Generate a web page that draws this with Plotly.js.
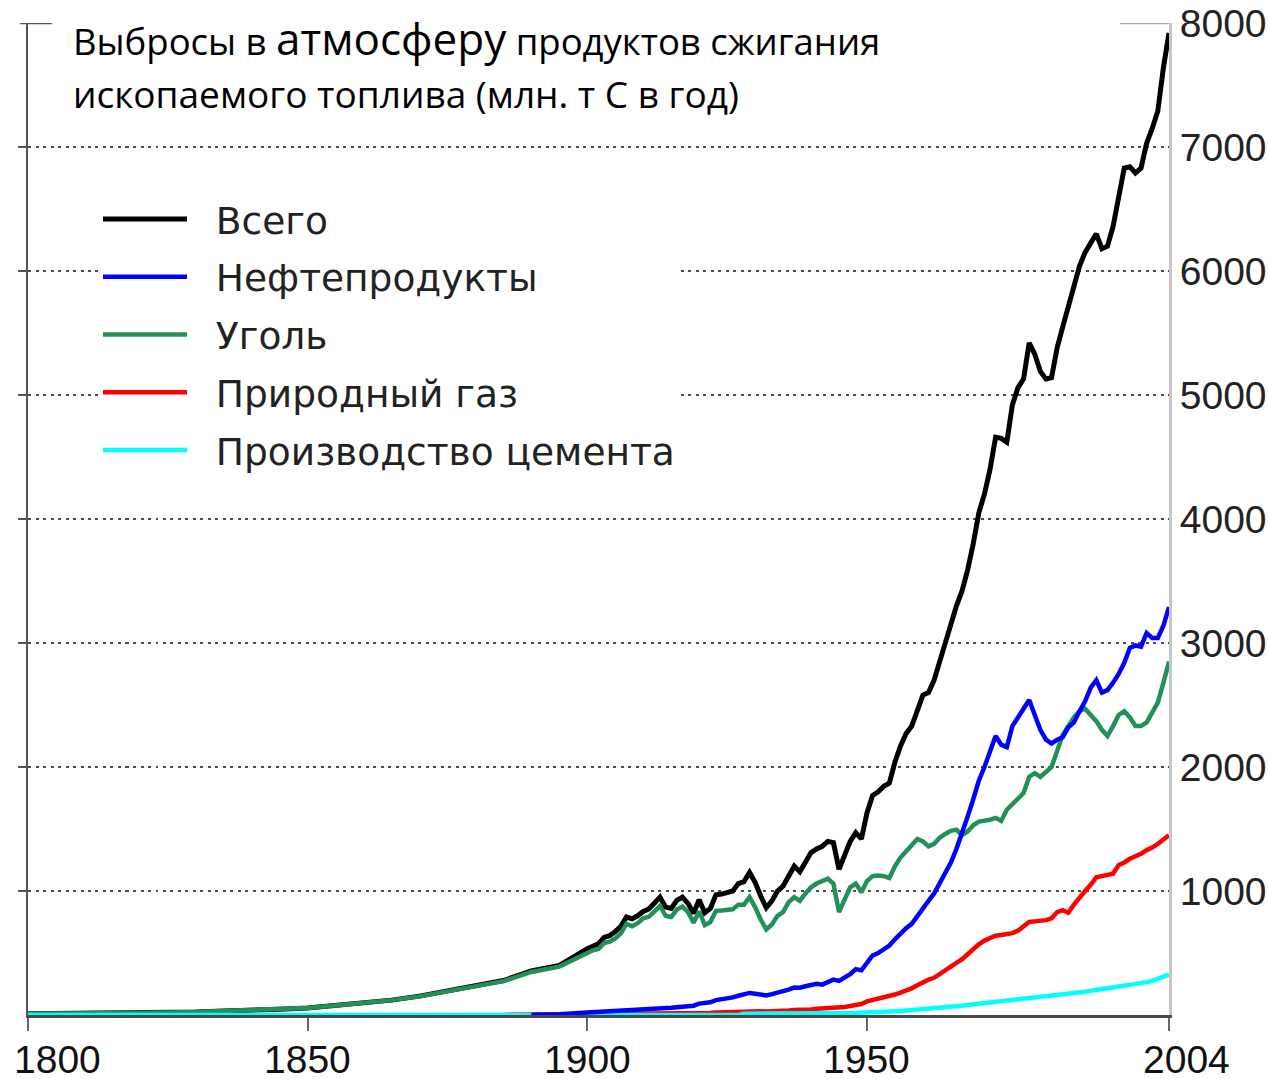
<!DOCTYPE html>
<html>
<head>
<meta charset="utf-8">
<script src="https://cdn.plot.ly/plotly-3.0.1.min.js"></script>
<style>html,body{margin:0;padding:0;background:#fff;}#chart{width:1268px;height:1079px;}</style>
</head>
<body>
<div id="chart"></div>
<script>
// Years: 5-year steps before 1900, annual from 1900
const years = [1800,1805,1810,1815,1820,1825,1830,1835,1840,1845,1850,1855,1860,1865,1870,1875,1880,1885,1890,1895,
1900,1901,1902,1903,1904,1905,1906,1907,1908,1909,1910,1911,1912,1913,1914,1915,1916,1917,1918,1919,
1920,1921,1922,1923,1924,1925,1926,1927,1928,1929,1930,1931,1932,1933,1934,1935,1936,1937,1938,1939,
1940,1941,1942,1943,1944,1945,1946,1947,1948,1949,1950,1951,1952,1953,1954,1955,1956,1957,1958,1959,
1960,1961,1962,1963,1964,1965,1966,1967,1968,1969,1970,1971,1972,1973,1974,1975,1976,1977,1978,1979,
1980,1981,1982,1983,1984,1985,1986,1987,1988,1989,1990,1991,1992,1993,1994,1995,1996,1997,1998,1999,
2000,2001,2002,2003,2004];

// Million tonnes of carbon per year
const total = [10,11,12,14,16,20,25,33,37,46,57,76,96,120,152,192,240,278,355,400,
534,560,575,625,640,672,715,790,775,800,835,855,900,950,870,860,925,950,900,820,
930,825,860,970,975,990,1000,1060,1075,1150,1070,960,865,920,1000,1040,1130,1200,1155,1230,
1310,1340,1360,1400,1390,1175,1290,1400,1470,1420,1630,1770,1800,1845,1870,2040,2170,2270,2330,2450,
2580,2600,2700,2850,3010,3140,3300,3420,3590,3800,4050,4200,4400,4660,4650,4620,4920,5060,5130,5420,
5330,5190,5130,5140,5380,5550,5720,5880,6040,6150,6230,6300,6180,6200,6360,6580,6830,6840,6790,6830,
7030,7150,7290,7640,7920];

const oil = [null,null,null,null,null,null,null,null,null,null,null,null,null,null,null,null,null,null,3,6,
20,22,24,26,28,30,33,36,38,40,44,46,50,55,56,58,62,66,68,75,
92,95,102,120,126,135,142,155,165,178,172,165,158,168,178,190,205,222,220,232,
240,252,245,262,285,275,300,330,370,360,420,480,500,530,560,610,660,700,735,800,
870,920,980,1060,1150,1230,1340,1460,1600,1740,1890,2000,2120,2250,2180,2160,2330,2400,2480,2540,
2420,2300,2220,2190,2220,2240,2320,2360,2450,2530,2640,2700,2600,2620,2680,2750,2840,2960,2980,2970,
3080,3040,3040,3140,3290];

const coal = [10,11,12,14,16,20,25,33,37,46,57,76,96,120,150,189,236,273,347,390,
500,522,532,580,592,618,658,735,715,740,780,792,835,880,800,790,850,875,830,745,
835,725,750,840,842,848,852,890,890,950,870,770,690,730,800,830,910,950,920,980,
1030,1060,1080,1100,1060,830,930,1030,1060,990,1080,1120,1125,1120,1105,1200,1270,1320,1370,1420,
1400,1360,1380,1430,1460,1485,1495,1450,1480,1530,1560,1565,1575,1590,1565,1655,1700,1750,1790,1920,
1950,1920,1960,2000,2130,2260,2330,2400,2450,2470,2420,2370,2300,2250,2330,2420,2450,2400,2330,2330,
2360,2450,2520,2680,2850];

const gas = [null,null,null,null,null,null,null,null,null,null,null,null,null,null,null,null,null,1,2,3,
4,4,4,5,5,5,6,6,7,7,7,8,8,9,9,10,11,12,13,14,
15,14,16,20,22,24,25,28,30,33,33,30,28,28,30,32,36,40,40,42,
45,50,52,57,60,60,65,73,82,88,110,120,130,140,150,165,180,195,215,240,
265,285,300,330,360,385,410,450,490,535,570,600,620,640,645,650,660,680,710,750,
755,760,765,780,830,845,825,890,950,1000,1050,1110,1120,1130,1140,1210,1230,1260,1280,1300,
1330,1350,1380,1410,1450];

const cement = [0,0,0,0,0,0,0,0,0,0,0,0,0,0,0,0,0,0,0,0,
0,0,0,0,0,0,0,0,0,0,0,0,0,0,0,0,0,0,0,0,
0,0,0,0,0,0,0,0,10,11,11,10,9,10,11,12,13,14,14,15,
15,15,14,13,12,12,14,16,17,18,20,22,24,26,28,30,33,36,39,42,
45,49,53,57,61,65,70,75,80,85,90,95,100,106,110,115,120,125,132,137,
140,142,145,150,155,160,166,172,180,188,195,200,207,215,222,230,236,242,248,255,
265,275,290,305,325];

const seriesNames = ['Всего','Нефтепродукты','Уголь','Природный газ','Производство цемента'];
const xTicks = [1800,1850,1900,1950,2004];
const xTickText = ['1800','1850','1900','1950','2004'];
const yTicks = [1000,2000,3000,4000,5000,6000,7000,8000];
const gridTicks = [1000,2000,3000,4000,5000,6000,7000];

// draw order: total, coal, gas, cement, oil (legend order via legendrank)
const specs = [
  {y: total,  name: seriesNames[0], color: '#000000', width: 5,   rank: 1},
  {y: coal,   name: seriesNames[2], color: '#23905a', width: 4.5, rank: 3},
  {y: gas,    name: seriesNames[3], color: '#ff0000', width: 4.5, rank: 4},
  {y: cement, name: seriesNames[4], color: '#00ffff', width: 4.5, rank: 5},
  {y: oil,    name: seriesNames[1], color: '#0000ff', width: 4.5, rank: 2}
];
const NB = '\u00a0\u00a0';
const traces = specs.map(s => ({
  type: 'scatter', mode: 'lines', x: years, y: s.y, name: NB + s.name,
  legendgroup: s.name, legendrank: s.rank,
  line: {color: s.color, width: s.width}, connectgaps: false,
  hoverinfo: 'skip', xaxis: 'x', yaxis: 'y'
}));
// invisible trace to activate the right-hand label axis
traces.push({type:'scatter', mode:'lines', x:[1800], y:[0], yaxis:'y2', showlegend:false, hoverinfo:'skip', line:{color:'rgba(0,0,0,0)'}});

const tickFont = {family: 'Liberation Sans, Arial, sans-serif', size: 39, color: '#111'};
// x tick labels: end labels are nudged inward like the original
const xLabelShift = [29, 0, 0, 0, 17];
const xLabelAnnotations = xTicks.map((v, i) => ({
  text: xTickText[i], xref: 'x', yref: 'paper', x: v, y: 0,
  xanchor: 'center', yanchor: 'middle', xshift: xLabelShift[i], yshift: -44,
  height: 34, borderpad: 0, valign: 'middle',
  showarrow: false, font: tickFont
}));

const layout = {
  width: 1268, height: 1079,
  margin: {l: 28, r: 99, t: 23, b: 64},
  paper_bgcolor: '#ffffff', plot_bgcolor: '#ffffff',
  showlegend: true,
  title: {
    text: 'Выбросы в <span style="font-size:44px">атмосферу</span> продуктов сжигания',
    font: {family: 'Open Sans, sans-serif', size: 36.5, color: '#000'},
    xref: 'container', x: 73/1268, xanchor: 'left',
    yref: 'container', y: 1 - 42/1079, yanchor: 'middle'
  },
  annotations: [
    {text: 'ископаемого топлива (млн. т С в год)', xref: 'paper', yref: 'paper',
     x: (71-28)/1141, y: (1015-94)/992, xanchor: 'left', yanchor: 'middle', showarrow: false,
     font: {family: 'Open Sans, sans-serif', size: 37, color: '#000'}}
  ].concat(xLabelAnnotations),
  xaxis: {
    range: [1800, 2004], showgrid: false, zeroline: false,
    showline: true, linecolor: '#4a4a4a', linewidth: 2.5,
    ticks: 'outside', ticklen: 13, tickwidth: 2, tickcolor: '#666',
    tickvals: xTicks, showticklabels: false, fixedrange: true
  },
  yaxis: {
    range: [0, 8000], side: 'left', zeroline: false,
    showline: true, linecolor: '#555', linewidth: 2.5,
    ticks: 'outside', ticklen: 8, tickwidth: 2, tickcolor: '#555',
    tickvals: gridTicks, showticklabels: false,
    showgrid: true, gridcolor: '#4d4d4d', gridwidth: 2.2, griddash: '3px,4.5px', fixedrange: true
  },
  yaxis2: {
    range: [0, 8000], overlaying: 'y', side: 'right', zeroline: false, showgrid: false,
    showline: true, linecolor: '#c6c6c6', linewidth: 3, ticks: '', ticklen: 0,
    tickvals: yTicks, ticktext: yTicks.map(String),
    tickfont: {family: 'Liberation Sans, Arial, sans-serif', size: 39, color: '#222'},
    ticklabelstandoff: 0, fixedrange: true
  },
  legend: {
    x: (98-28)/1141, y: (1015-188)/992, xanchor: 'left', yanchor: 'top',
    bgcolor: '#ffffff', borderwidth: 0, itemwidth: 84, tracegroupgap: 6,
    traceorder: 'grouped',
    font: {family: 'DejaVu Sans, Verdana, sans-serif', size: 37.5, color: '#222'}
  },
  shapes: [
    {type: 'line', xref: 'paper', yref: 'y', x0: (20-28)/1141, x1: (52-28)/1141, y0: 8000, y1: 8000,
     line: {color: '#555', width: 2.5}},
    {type: 'line', xref: 'paper', yref: 'y', x0: (1120-28)/1141, x1: 1, y0: 8000, y1: 8000,
     line: {color: '#aaa', width: 2.5}}
  ]
};

Plotly.newPlot('chart', traces, layout, {displayModeBar: false, staticPlot: true});
</script>
</body>
</html>
